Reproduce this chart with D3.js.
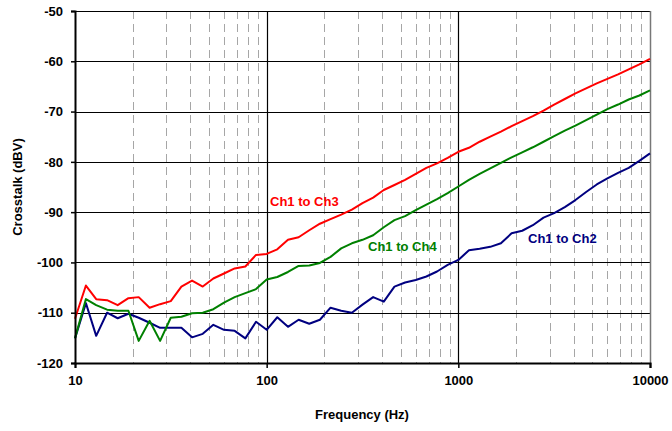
<!DOCTYPE html>
<html><head><meta charset="utf-8">
<script src="https://cdn.jsdelivr.net/npm/d3@7"></script>
<style>body{margin:0;background:#fff}svg{display:block}text{font-family:Arial,"Liberation Sans",sans-serif;font-weight:bold}</style>
</head><body><svg id="c" width="672" height="431"></svg>
<script>
const freqs = [10,11.4,12.9,14.7,16.7,19.0,21.5,24.5,27.8,31.6,35.9,40.8,46.4,52.7,59.9,68.1,77.4,88.0,100,113.6,129.2,146.8,166.8,189.6,215.4,244.8,278.3,316.2,359.4,408.4,464.2,527.5,599.5,681.3,774.3,880.0,1000,1136,1292,1468,1668,1896,2154,2448,2783,3162,3594,4084,4642,5275,5995,6813,7743,8799,10000];
const ch3 = [-111.2,-104.6,-107.3,-107.5,-108.5,-107.1,-106.9,-109.0,-108.3,-107.7,-104.8,-103.6,-104.8,-103.2,-102.2,-101.2,-100.8,-98.5,-98.3,-97.4,-95.5,-95.0,-93.6,-92.3,-91.4,-90.5,-89.5,-88.2,-87.1,-85.6,-84.6,-83.6,-82.4,-81.2,-80.3,-79.2,-78.0,-77.2,-76.0,-75.0,-74.0,-72.9,-71.9,-70.9,-69.8,-68.6,-67.5,-66.4,-65.4,-64.4,-63.5,-62.6,-61.6,-60.6,-59.5];
const ch4 = [-115.1,-107.3,-108.5,-109.4,-109.6,-109.6,-115.6,-111.6,-115.6,-111.0,-110.8,-110.1,-110.0,-109.3,-108.0,-106.9,-106.1,-105.3,-103.4,-102.9,-101.9,-100.7,-100.6,-100.1,-98.9,-97.2,-96.2,-95.5,-94.6,-93.0,-91.6,-90.8,-89.6,-88.5,-87.4,-86.2,-84.9,-83.6,-82.4,-81.3,-80.2,-79.1,-78.1,-77.1,-76.0,-74.9,-73.8,-72.8,-71.7,-70.6,-69.5,-68.6,-67.6,-66.8,-65.8];
const ch2 = [-115.1,-108.1,-114.6,-110.0,-111.1,-110.2,-111.0,-112.0,-113.0,-113.0,-113.0,-114.9,-114.2,-112.4,-113.4,-113.6,-115.1,-111.8,-113.4,-110.9,-112.8,-111.4,-112.2,-111.4,-109.0,-109.6,-110.0,-108.4,-106.9,-107.8,-104.8,-104.0,-103.5,-102.8,-101.8,-100.5,-99.5,-97.6,-97.3,-96.9,-96.2,-94.2,-93.7,-92.6,-91.1,-90.2,-89.0,-87.6,-86.0,-84.5,-83.3,-82.2,-81.2,-79.8,-78.3];
const yTicks = [-50,-60,-70,-80,-90,-100,-110,-120];
const xTicks = [10,100,1000,10000];
const minorX = [20,30,40,50,60,70,80,90,200,300,400,500,600,700,800,900,2000,3000,4000,5000,6000,7000,8000,9000];
const series = [
  {name:"Ch1 to Ch2", values:ch2, color:"#000080", lx:528, ly:243},
  {name:"Ch1 to Ch4", values:ch4, color:"#008000", lx:368, ly:251},
  {name:"Ch1 to Ch3", values:ch3, color:"#ff0000", lx:270, ly:206}
];

const svg = d3.select("#c");
const L=75, R=650, T=11, B=363;
const x = d3.scaleLog().domain([10,10000]).range([L,R]);
const y = d3.scaleLinear().domain([-120,-50]).range([B,T]);

svg.append("g").selectAll("line").data(minorX).join("line")
  .attr("x1",d=>Math.round(x(d))+0.5).attr("x2",d=>Math.round(x(d))+0.5)
  .attr("y1",T).attr("y2",B)
  .attr("stroke","#a6a6a6").attr("stroke-width",1).attr("stroke-dasharray","8,5");
svg.append("g").selectAll("line").data(yTicks).join("line")
  .attr("x1",L).attr("x2",R)
  .attr("y1",d=>Math.round(y(d))+0.5).attr("y2",d=>Math.round(y(d))+0.5)
  .attr("stroke","#000").attr("stroke-width",1.2);
svg.append("g").selectAll("line").data(xTicks.slice(1,3)).join("line")
  .attr("x1",d=>Math.round(x(d))+0.5).attr("x2",d=>Math.round(x(d))+0.5)
  .attr("y1",T).attr("y2",B)
  .attr("stroke","#000").attr("stroke-width",1.2);
svg.append("line").attr("x1",R+0.5).attr("x2",R+0.5).attr("y1",T).attr("y2",B+5)
  .attr("stroke","#777").attr("stroke-width",1.5);

const line = d3.line().x((d,i)=>x(freqs[i])).y(d=>y(d));
series.forEach(s=>{
  svg.append("path").datum(s.values).attr("d",line)
    .attr("fill","none").attr("stroke",s.color).attr("stroke-width",2).attr("stroke-linejoin","round");
});

const yAxis = d3.axisLeft(y).tickValues(yTicks).tickSize(4).tickPadding(8).tickFormat(d=>String(d));
const gy = svg.append("g").attr("transform",`translate(${L},0)`).call(yAxis);
gy.select(".domain").attr("stroke","#000").attr("stroke-width",2);
gy.selectAll(".tick line").attr("stroke","#000").attr("stroke-width",1.5);
gy.selectAll("text").attr("font-size",13).attr("fill","#000").style("font-weight","bold");

const xAxis = d3.axisBottom(x).tickValues(xTicks).tickSize(5).tickPadding(8).tickFormat(d=>String(d));
const gx = svg.append("g").attr("transform",`translate(0,${B})`).call(xAxis);
gx.select(".domain").attr("stroke","#000").attr("stroke-width",2);
gx.selectAll(".tick line").attr("stroke","#000").attr("stroke-width",1.5);
gx.selectAll("text").attr("font-size",13).attr("fill","#000").style("font-weight","bold");

series.forEach(s=>{
  svg.append("text").attr("x",s.lx).attr("y",s.ly).attr("fill",s.color).attr("font-size",13).text(s.name);
});

svg.append("text").attr("x",362).attr("y",419).attr("text-anchor","middle").attr("font-size",13).text("Frequency (Hz)");
svg.append("text").attr("transform","translate(22,187) rotate(-90)").attr("text-anchor","middle").attr("font-size",13).text("Crosstalk (dBV)");
</script></body></html>
